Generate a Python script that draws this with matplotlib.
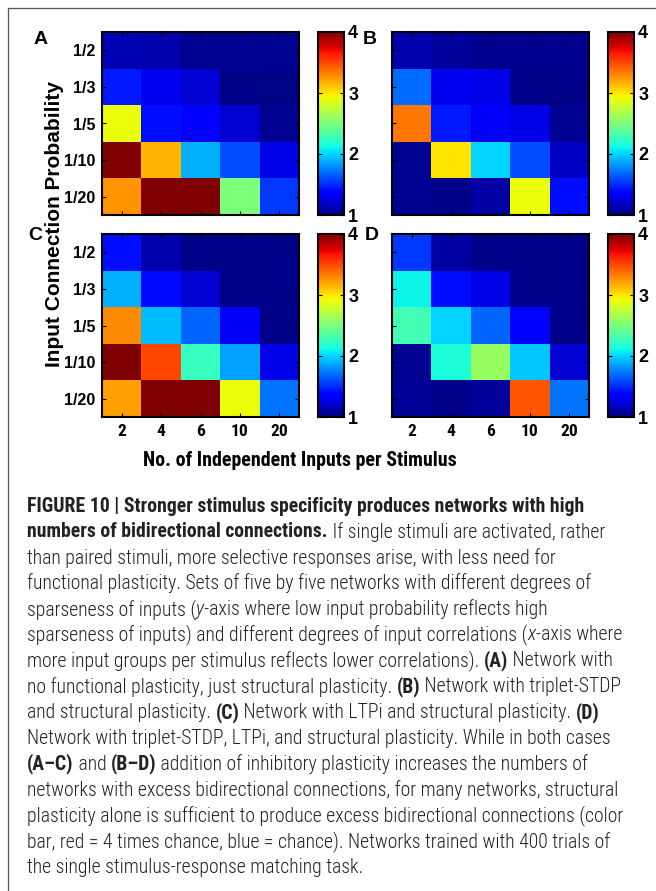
import numpy as np
import matplotlib
matplotlib.use('Agg')
import matplotlib.pyplot as plt
from matplotlib.lines import Line2D

plt.rcParams['font.family'] = ['Liberation Sans', 'DejaVu Sans']

# rows: input connection probability, cols: independent inputs per stimulus
prob_labels = ['1/2', '1/3', '1/5', '1/10', '1/20']
input_labels = ['2', '4', '6', '10', '20']

panel_a = [[1.15, 1.12, 1.05, 1.05, 1.05],
           [1.45, 1.30, 1.22, 1.03, 1.02],
           [2.90, 1.42, 1.35, 1.22, 1.05],
           [4.00, 3.15, 1.90, 1.60, 1.27],
           [3.25, 4.00, 4.00, 2.50, 1.55]]

panel_b = [[1.12, 1.08, 1.04, 1.04, 1.04],
           [1.70, 1.30, 1.27, 1.03, 1.03],
           [3.35, 1.45, 1.32, 1.27, 1.05],
           [1.05, 3.00, 2.00, 1.60, 1.18],
           [1.05, 1.03, 1.10, 2.90, 1.42]]

panel_c = [[1.42, 1.12, 1.03, 1.03, 1.03],
           [1.90, 1.40, 1.22, 1.03, 1.03],
           [3.28, 1.93, 1.67, 1.32, 1.03],
           [4.00, 3.50, 2.25, 1.85, 1.27],
           [3.22, 4.00, 4.00, 2.90, 1.72]]

panel_d = [[1.55, 1.10, 1.03, 1.03, 1.03],
           [2.10, 1.42, 1.27, 1.03, 1.03],
           [2.30, 2.00, 1.67, 1.35, 1.03],
           [1.05, 2.15, 2.60, 1.97, 1.22],
           [1.06, 1.03, 1.08, 3.45, 1.72]]

cbar_ticks = [1, 2, 3, 4]

W, H = 656, 891
fig = plt.figure(figsize=(W / 100, H / 100), dpi=100)
cond = ['Roboto Condensed', 'Liberation Sans Narrow', 'Liberation Sans']

def px(x0, y0, x1, y1):
    # pixel box -> figure fraction rect
    return [x0 / W, 1 - y1 / H, (x1 - x0) / W, (y1 - y0) / H]

def heatmap(rect, cbrect, data, letter, letter_xy, show_y, show_x):
    ax = fig.add_axes(rect)
    im = ax.imshow(np.array(data), cmap='jet', vmin=1, vmax=4,
                   aspect='auto', interpolation='nearest')
    ax.set_xticks(range(5))
    ax.set_yticks(range(5))
    ax.tick_params(direction='in', length=3, width=0.8, top=True, right=True,
                   labelsize=11.5, pad=5)
    if show_y:
        ax.set_yticklabels(prob_labels, fontweight='bold')
    else:
        ax.set_yticklabels([])
    if show_x:
        ax.set_xticklabels(input_labels, fontweight='bold', fontsize=12.5,
                           family=cond)
    else:
        ax.set_xticklabels([])
    for s in ax.spines.values():
        s.set_linewidth(1.5)
    cax = fig.add_axes(cbrect)
    cb = fig.colorbar(im, cax=cax, ticks=cbar_ticks)
    cb.outline.set_linewidth(1.5)
    cax.tick_params(direction='in', length=3, width=0.8, left=True, right=True,
                    labelsize=13, pad=3)
    for t in cax.get_yticklabels():
        t.set_fontweight('bold')
    fig.text(letter_xy[0] / W, 1 - letter_xy[1] / H, letter, fontsize=14,
             fontweight='bold', ha='center', va='center')
    return ax

heatmap(px(102, 32, 299, 215), px(318, 32, 344, 215), panel_a, 'A', (41, 40), True, False)
heatmap(px(392, 32, 589, 215), px(608, 32, 634, 215), panel_b, 'B', (370, 40), False, False)
heatmap(px(102, 234, 299, 417), px(318, 234, 344, 417), panel_c, 'C', (35, 236), True, True)
heatmap(px(392, 234, 589, 417), px(608, 234, 634, 417), panel_d, 'D', (372, 236), False, True)

fig.text(55 / W, 1 - 224 / H, 'Input Connection Probability', rotation=90,
         fontsize=15, fontweight='bold', ha='center', va='center')
fig.text(300 / W, 1 - 461 / H, 'No. of Independent Inputs per Stimulus',
         fontsize=14.3, fontweight='bold', ha='center', va='center', family=cond)

# frame lines (top and left only)
fig.add_artist(Line2D([8 / W, 1], [1 - 8 / H, 1 - 8 / H], color='#555555', lw=0.9))
fig.add_artist(Line2D([8 / W, 8 / W], [0, 1 - 8 / H], color='#555555', lw=0.9))

# caption, built segment by segment
N, B, I = 'normal', 'bold', 'italic'
caption = [
    [('FIGURE 10 | Stronger stimulus specificity produces networks with high', B)],
    [('numbers of bidirectional connections.', B), (' If single stimuli are activated, rather', N)],
    [('than paired stimuli, more selective responses arise, with less need for', N)],
    [('functional plasticity. Sets of five by five networks with different degrees of', N)],
    [('sparseness of inputs (', N), ('y', I), ('-axis where low input probability reflects high', N)],
    [('sparseness of inputs) and different degrees of input correlations (', N), ('x', I), ('-axis where', N)],
    [('more input groups per stimulus reflects lower correlations). ', N), ('(A)', B), (' Network with', N)],
    [('no functional plasticity, just structural plasticity. ', N), ('(B)', B), (' Network with triplet-STDP', N)],
    [('and structural plasticity. ', N), ('(C)', B), (' Network with LTPi and structural plasticity. ', N), ('(D)', B)],
    [('Network with triplet-STDP, LTPi, and structural plasticity. While in both cases', N)],
    [('(A\u2013C)', B), (' and ', N), ('(B\u2013D)', B), (' addition of inhibitory plasticity increases the numbers of', N)],
    [('networks with excess bidirectional connections, for many networks, structural', N)],
    [('plasticity alone is sufficient to produce excess bidirectional connections (color', N)],
    [('bar, red = 4 times chance, blue = chance). Networks trained with 400 trials of', N)],
    [('the single stimulus-response matching task.', N)],
]

cap_size = 14.2
renderer = fig.canvas.get_renderer()

def seg_width(s, style):
    kw = dict(fontsize=cap_size, family=cond, fontweight='light', color='#222222')
    if style == B:
        kw['fontweight'] = 'bold'
    if style == I:
        kw['fontstyle'] = 'italic'
    t = fig.text(0, 0, 'l' + s + 'l', **kw)
    w = t.get_window_extent(renderer).width
    t.remove()
    t = fig.text(0, 0, 'll', **kw)
    w -= t.get_window_extent(renderer).width
    t.remove()
    return w, kw

y0, dy = 506, 25.8
for i, line in enumerate(caption):
    x = 27.0
    y = y0 + i * dy
    for s, style in line:
        w, kw = seg_width(s, style)
        fig.text(x / W, 1 - y / H, s, ha='left', va='center', **kw)
        x += w

fig.savefig('out.png', dpi=100)
